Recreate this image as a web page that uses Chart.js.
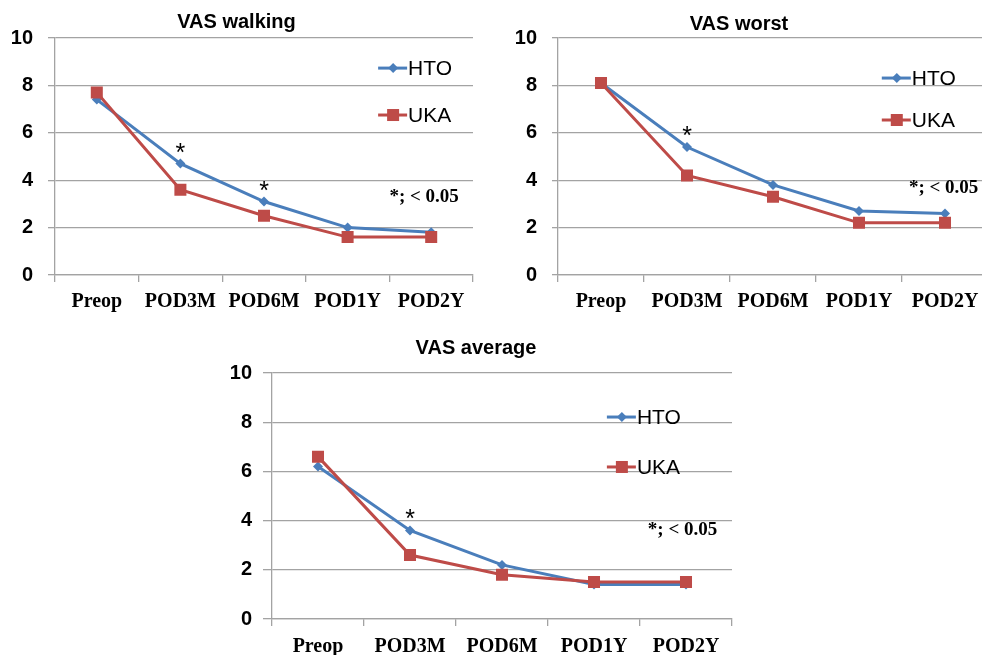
<!DOCTYPE html>
<html>
<head>
<meta charset="utf-8">
<script src="https://cdn.jsdelivr.net/npm/chart.js@4/dist/chart.umd.min.js"></script>
<style>
  html, body { margin: 0; padding: 0; background: #fff; }
  body { width: 982px; height: 655px; overflow: hidden; position: relative; }
  .box { position: absolute; }
</style>
</head>
<body>
<div class="box" style="left:0;top:0;width:490px;height:320px"><canvas id="walking"></canvas></div>
<div class="box" style="left:490px;top:0;width:584px;height:320px"><canvas id="worst"></canvas></div>
<div class="box" style="left:220px;top:330px;width:535px;height:340px"><canvas id="average"></canvas></div>
<script>
const categories = ['Preop', 'POD3M', 'POD6M', 'POD1Y', 'POD2Y'];
const yTicks = [0, 2, 4, 6, 8, 10];

const walkingHTO = [7.4, 4.7, 3.1, 2.0, 1.8];
const walkingUKA = [7.7, 3.6, 2.5, 1.6, 1.6];
const worstHTO = [8.1, 5.4, 3.8, 2.7, 2.6];
const worstUKA = [8.1, 4.2, 3.3, 2.2, 2.2];
const averageHTO = [6.2, 3.6, 2.2, 1.4, 1.4];
const averageUKA = [6.6, 2.6, 1.8, 1.5, 1.5];

// categories marked as significant (index into categories)
const walkingStars = [1, 2];
const worstStars = [1];
const averageStars = [1];

const BLUE = '#4a7ebb';
const RED = '#be4b48';
const GRID = '#a3a3a3';

const notesPlugin = {
  id: 'vasNotes',
  afterDatasetsDraw(chart, args, opts) {
    const ctx = chart.ctx;
    const a = chart.chartArea;
    const xs = chart.scales.x, ys = chart.scales.y;
    const hto = chart.data.datasets[0].data;
    ctx.save();
    // stars over HTO points
    ctx.fillStyle = '#000';
    ctx.font = '25px "Liberation Sans", Arial, sans-serif';
    ctx.textAlign = 'center';
    ctx.textBaseline = 'alphabetic';
    opts.stars.forEach(i => {
      ctx.fillText('*', xs.getPixelForValue(i), ys.getPixelForValue(hto[i]) - 3);
    });
    // p-value note
    ctx.font = 'bold 19px "Liberation Serif", "Times New Roman", serif';
    ctx.textAlign = 'left';
    ctx.textBaseline = 'middle';
    ctx.fillText('*; < 0.05', a.left + opts.note[0] * (a.right - a.left), a.top + opts.note[1] * (a.bottom - a.top));
    // legend
    const lx = a.left + opts.legend[0] * (a.right - a.left);
    chart.data.datasets.forEach((ds, k) => {
      const ly = a.top + opts.legend[1 + k] * (a.bottom - a.top);
      ctx.strokeStyle = ds.borderColor;
      ctx.lineWidth = 3;
      ctx.beginPath();
      ctx.moveTo(lx, ly);
      ctx.lineTo(lx + 29, ly);
      ctx.stroke();
      ctx.fillStyle = ds.borderColor;
      const cx = lx + 15;
      if (ds.pointStyle === 'rect') {
        ctx.fillRect(cx - 6, ly - 6, 12, 12);
      } else {
        ctx.beginPath();
        ctx.moveTo(cx, ly - 5); ctx.lineTo(cx + 5, ly); ctx.lineTo(cx, ly + 5); ctx.lineTo(cx - 5, ly);
        ctx.closePath();
        ctx.fill();
      }
      ctx.fillStyle = '#000';
      ctx.font = '21px "Liberation Sans", Arial, sans-serif';
      ctx.textBaseline = 'middle';
      ctx.fillText(ds.label, lx + 30, ly + 1);
    });
    ctx.restore();
  }
};

function makeChart(id, title, hto, uka, stars, geo) {
  new Chart(document.getElementById(id), {
    type: 'line',
    data: {
      labels: categories,
      datasets: [
        { label: 'HTO', data: hto, borderColor: BLUE, backgroundColor: BLUE, borderWidth: 3,
          pointStyle: 'rectRot', pointRadius: 5, pointBorderWidth: 0, tension: 0, order: 1 },
        { label: 'UKA', data: uka, borderColor: RED, backgroundColor: RED, borderWidth: 3,
          pointStyle: 'rect', pointRadius: 8.5, pointBorderWidth: 0, tension: 0, order: 0 }
      ]
    },
    options: {
      responsive: true,
      maintainAspectRatio: false,
      animation: false,
      events: [],
      layout: { padding: { left: 0, right: geo.right, top: 0, bottom: 0 } },
      plugins: {
        legend: { display: false },
        tooltip: { enabled: false },
        title: {
          display: true, text: title, color: '#000',
          font: { family: '"Liberation Sans", Arial, sans-serif', size: 20, weight: 'bold', lineHeight: 1.1 },
          padding: { top: geo.titleTop, bottom: geo.titleBottom }
        },
        vasNotes: { stars: stars, note: geo.note, legend: geo.legend }
      },
      scales: {
        x: {
          offset: true,
          grid: { offset: true, drawOnChartArea: false, color: GRID, tickLength: 7, lineWidth: 1.3 },
          border: { color: GRID, width: 1.3 },
          ticks: { color: '#000', padding: geo.xPad,
            font: { family: '"Liberation Serif", "Times New Roman", serif', size: 20, weight: 'bold' } },
          afterFit: s => { s.height = geo.xH; }
        },
        y: {
          min: 0, max: 10,
          afterBuildTicks: s => { s.ticks = yTicks.map(v => ({ value: v })); },
          grid: { color: GRID, tickLength: geo.tick, lineWidth: 1.3 },
          border: { color: GRID, width: 1.3 },
          ticks: { color: '#000', padding: geo.yPad,
            font: { family: '"Liberation Sans", Arial, sans-serif', size: 20, weight: 'bold' } },
          afterFit: s => { s.width = geo.yW; }
        }
      }
    },
    plugins: [notesPlugin]
  });
}

makeChart('walking', 'VAS walking', walkingHTO, walkingUKA, walkingStars,
  { right: 17, titleTop: 11, titleBottom: 5, xH: 45, xPad: 8, yW: 55, tick: 7, yPad: 15,
    note: [0.80, 0.67], legend: [0.773, 0.127, 0.325] });
makeChart('worst', 'VAS worst', worstHTO, worstUKA, worstStars,
  { right: 86, titleTop: 13, titleBottom: 3, xH: 45, xPad: 8, yW: 68, tick: 6, yPad: 15,
    note: [0.816, 0.633], legend: [0.753, 0.169, 0.346] });
makeChart('average', 'VAS average', averageHTO, averageUKA, averageStars,
  { right: 23, titleTop: 7, titleBottom: 14, xH: 51, xPad: 9, yW: 52, tick: 9, yPad: 11,
    note: [0.817, 0.638], legend: [0.728, 0.179, 0.382] });
</script>
</body>
</html>
